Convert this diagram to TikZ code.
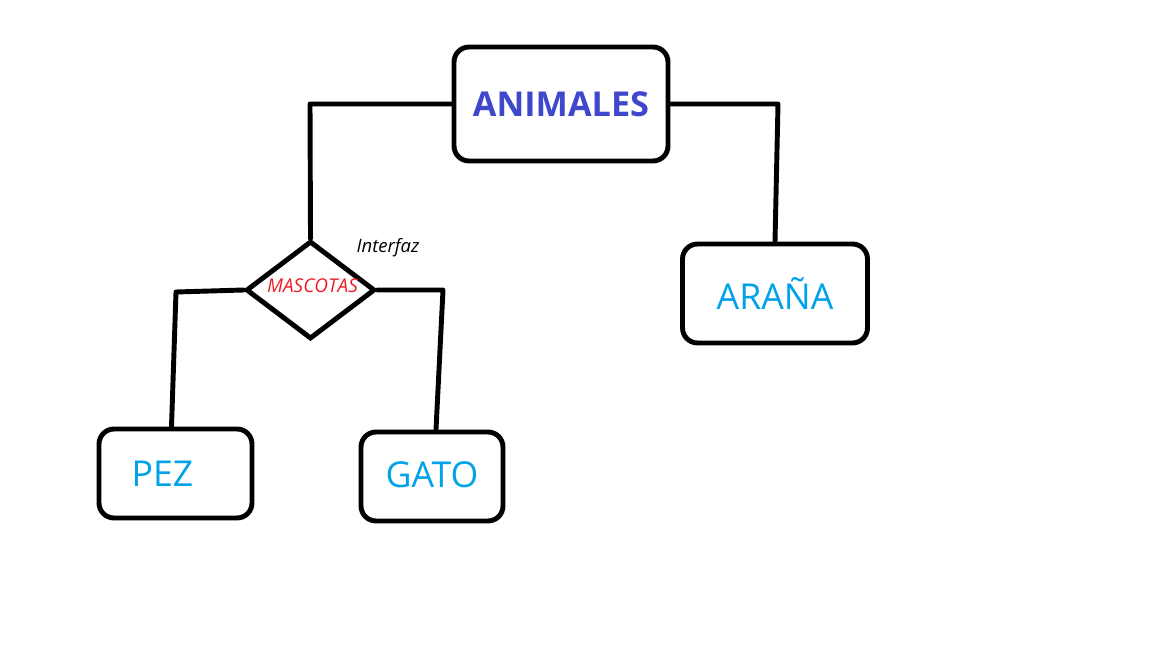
\documentclass[tikz,border=0pt]{standalone}
\usepackage{fontspec}
\setmainfont{Open Sans}
\usetikzlibrary{positioning, shapes.geometric}
\definecolor{titleblue}{RGB}{63,72,204}
\definecolor{leafblue}{RGB}{0,162,232}
\definecolor{mascred}{RGB}{237,28,36}
\tikzset{
  box/.style   = {draw, line width=2.8pt, rounded corners=0.3cm, inner sep=0pt},
  leaf/.style  = {font=\fontsize{20.3}{22}\selectfont, text=leafblue},
  rombo/.style = {draw, diamond, line width=2.8pt, inner sep=0pt,
                  minimum width=2.58cm, minimum height=1.96cm},
  wire/.style  = {line width=2.8pt, line cap=round, line join=round},
}

\begin{document}
\begin{tikzpicture}[x=0.02cm, y=-0.02cm]
    \useasboundingbox (0,0) rectangle (1152,648);
    \node[box, minimum width=4.28cm, minimum height=2.28cm,
          font=\bfseries\fontsize{19.5}{22}\selectfont, text=titleblue]
          (animales) at (561,104) {ANIMALES};
    \node[box, leaf, minimum width=3.70cm, minimum height=1.98cm] (arana) at (775,293.5) {ARAÑA};
    \node[box, leaf, minimum width=3.06cm, minimum height=1.78cm] (pez) at (175.5,473.5) {\hspace*{-0.52cm}\raisebox{-0.06cm}{PEZ}};
    \node[box, leaf, minimum width=2.84cm, minimum height=1.78cm] (gato) at (432,476.5) {\raisebox{0.06cm}{GATO}};
    \node[rombo] (mascotas) at (310.5,290) {};
    \node[font=\itshape\fontsize{10.8}{12}\selectfont, text=mascred] (mascname) at (312.5,286) {MASCOTAS};
    \node[font=\itshape\fontsize{10.5}{12}\selectfont] (interfaz) at (388,248) {Interfaz};
    % esquinas de los conectores
    \coordinate (cl) at (310,104);
    \coordinate (cr) at (778,104);
    \coordinate (cpez) at (176,292);
    \coordinate (cgato) at (443,290);
    \draw[wire] (animales.west) -- (cl) -- (mascotas.north);
    \draw[wire] (animales.east) -- (cr) -- (arana.north);
    \draw[wire] (mascotas.west) -- (cpez) -- ([xshift=-0.08cm]pez.north);
    \draw[wire] (mascotas.east) -- (cgato) -- ([xshift=0.08cm]gato.north);
\end{tikzpicture}
\end{document}
